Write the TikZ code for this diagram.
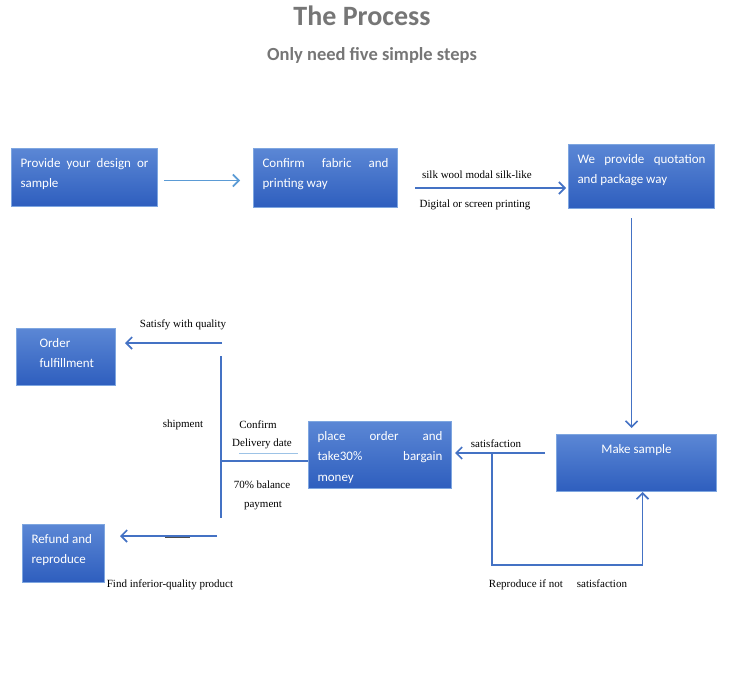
\documentclass[tikz,border=0pt]{standalone}
\usepackage{fontspec}
\setmainfont{Liberation Serif}
\newfontfamily\boxfont{Carlito}
\usetikzlibrary{arrows.meta}
\definecolor{boxtop}{HTML}{5B87D5}
\definecolor{boxbot}{HTML}{2E5EBE}
\definecolor{boxedge}{HTML}{7EA6E0}
\definecolor{arrowc}{HTML}{4472C4}
\definecolor{arrowl}{HTML}{5B9BD5}
\definecolor{titlec}{HTML}{767676}
\definecolor{ulc}{HTML}{9DC3E6}
\newcommand{\procbox}[6]{%
 \node[procbox, minimum width=#4pt, minimum height=#5pt] (#1) at (#2,#3)
 {\parbox[t][\dimexpr#5pt-19pt\relax][t]{\dimexpr#4pt-18pt\relax}{#6}};}
\tikzset{
 procbox/.style={draw=boxedge, line width=1pt, top color=boxtop, bottom color=boxbot,
   text=white, font=\boxfont\fontsize{13}{20.5}\selectfont, inner xsep=9pt, inner ysep=9.5pt,
   anchor=north west},
 arr/.style={draw=arrowc, line width=1.6pt, -{Straight Barb[length=6pt,width=12pt,line width=1.6pt]}},
 plain/.style={draw=arrowc, line width=1.6pt},
 lbl/.style={font=\fontsize{11}{13}\selectfont, text=black, inner sep=0pt},
}
\begin{document}
\begin{tikzpicture}[x=1pt,y=-1pt]
\useasboundingbox (0,0) rectangle (730,677);
\node[font=\boxfont\bfseries\fontsize{28}{32}\selectfont, text=titlec] (title) at (362,16) {The Process};
\node[font=\boxfont\bfseries\fontsize{18.5}{22}\selectfont, text=titlec] (subtitle) at (372,55) {Only need five simple steps};

\procbox{b1}{11}{148}{146}{58}{Provide your design or\linebreak sample}
\procbox{b2}{253}{148}{144}{59}{Confirm fabric and\linebreak printing way}
\procbox{b3}{568}{144}{146}{64}{We provide quotation\linebreak and package way}
\procbox{ms}{556}{434}{160}{57}{\centering Make sample}
\procbox{po}{308}{421}{143}{67}{place order and\linebreak take30\% bargain\linebreak money}
\procbox{of}{16}{328}{99}{57}{\leftskip=14pt Order\\fulfillment}
\procbox{rf}{22}{524}{82}{58}{Refund and\\reproduce}

% top row
\draw[arr, draw=arrowl, shorten <=6pt, shorten >=13pt] ([yshift=-3pt]b1.east) -- ([yshift=-3pt]b1.east -| b2.west);
\draw[arr, shorten <=17pt, shorten >=2pt] ([yshift=-10pt]b2.east) -- ([yshift=-10pt]b2.east -| b3.west);
\node[lbl] (l1) at (477,175) {silk wool modal silk-like};
\node[lbl] (l2) at (475,205) {Digital or screen printing};

% down to make sample
\draw[arr, shorten <=9pt, shorten >=6pt] ([xshift=-10pt]b3.south) -- ([xshift=-10pt]b3.south |- ms.north);

% make sample -> place order
\draw[arr, shorten <=11pt, shorten >=3pt] (ms.west |- 0,453) -- (po.east |- 0,453);
\node[lbl] (l3) at (496,444) {satisfaction};

% reproduce loop
\coordinate (lpa) at (492,453);
\coordinate (lpb) at (492,565);
\draw[arr] (lpa) -- (lpb) -- ([xshift=6pt]ms.south |- lpb) -- ([xshift=6pt]ms.south);
\node[lbl] (l4) at (558,585) {Reproduce if not\hspace{14pt}satisfaction};

% left tree
\coordinate (vt) at (221,356);
\coordinate (vb) at (221,518);
\coordinate (jn) at (221,461);
\draw[plain] (vt) -- (vb);
\draw[plain] (jn) -- (jn -| po.west);
\coordinate (sq) at (222,343);
\draw[arr, shorten >=9pt] (sq) -- (sq -| of.east);
\coordinate (fq) at (217,536);
\draw[arr, shorten >=15pt] (fq) -- (fq -| rf.east);
\coordinate (mk1) at (165,537.5);
\coordinate (mk2) at (190,537.5);
\draw[draw=black!70, line width=1pt] (mk1) -- (mk2);

\node[lbl] (l5) at (183,325) {Satisfy with quality};
\node[lbl] (l6) at (183,425) {shipment};
\node[lbl] (l7) at (258,425) {Confirm};
\node[lbl] (l8) at (262,444) {Delivery date};
\coordinate (ul1) at (239,453);
\coordinate (ul2) at (298,453);
\draw[draw=ulc, line width=1pt] (ul1) -- (ul2);
\node[lbl] (l9) at (262,485) {70\% balance};
\node[lbl] (l10) at (263,506) {payment};
\node[lbl] (l11) at (170,585) {Find inferior-quality product};
\end{tikzpicture}
\end{document}
